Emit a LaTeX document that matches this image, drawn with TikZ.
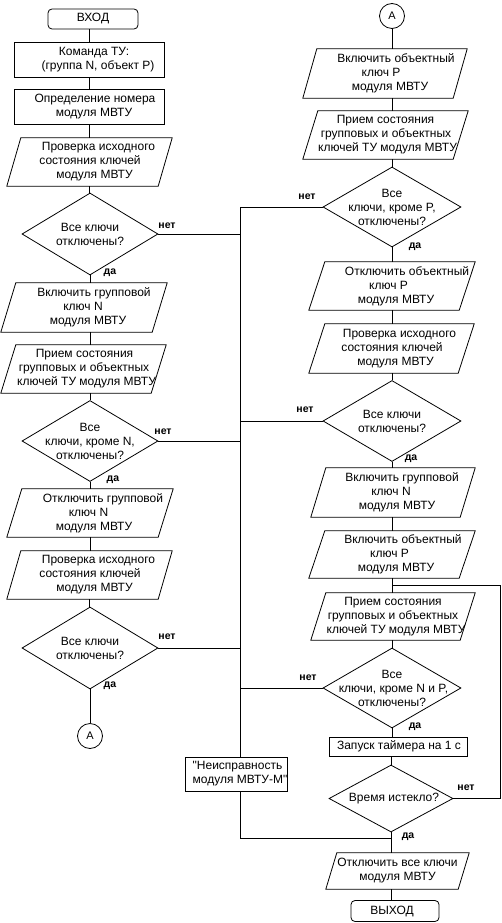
\documentclass[tikz,border=0pt]{standalone}
\usepackage{fontspec}
\setmainfont{Liberation Sans}[Ligatures=TeXOff]
\usetikzlibrary{shapes.geometric}
\newcommand\shl[2]{\hspace*{#1pt}#2\hspace*{-#1pt}}
\begin{document}
\begin{tikzpicture}[x=1pt,y=-1pt,
  txt/.style={font=\fontsize{12}{14}\selectfont, align=center, inner sep=0pt},
  proc/.style={txt, draw, line width=0.8pt, rectangle, minimum height=35pt},
  term/.style={txt, draw, line width=0.8pt, rounded corners=4pt, minimum height=20pt},
  iobox/.style={txt, rectangle, minimum height=48pt},
  decision/.style={txt, draw, line width=0.8pt, diamond, inner sep=-10pt, aspect=1.7},
  conn/.style={draw, line width=0.8pt, circle, minimum size=25pt, inner sep=0pt, font=\fontsize{11}{11}\selectfont},
  lab/.style={font=\fontsize{10.5}{10.5}\selectfont\bfseries, inner sep=0pt},
  flow/.style={draw, line width=0.8pt}]
\fill[white] (0,0) rectangle (502,923);
\path[use as bounding box] (0,0) rectangle (502,923);

% ---- left column
\node[term, minimum width=90pt] (in) at (93,19) {ВХОД};
\node[proc, minimum width=150pt] (cmd) at (89,59.5) {\shl{5}{Команда ТУ:}\\\shl{9}{(группа N, объект P)}};
\node[proc, minimum width=150pt] (det) at (89,106.5) {\shl{6}{Определение номера}\\\shl{5}{модуля МВТУ}};
\node[iobox, minimum width=165pt] (chk1) at (89.5,162) {\shl{9}{Проверка исходного}\\\shl{1}{состояния ключей}\\\shl{5}{модуля МВТУ}};
\node[decision, minimum width=136pt, minimum height=82pt] (d1) at (90,234) {Все ключи\\отключены?};
\node[iobox, minimum width=166pt, minimum height=49pt] (on1) at (84,307.5) {\shl{10}{Включить групповой}\\\shl{-2}{ключ N}\\\shl{4}{модуля МВТУ}};
\node[iobox, minimum width=165pt] (rcv1) at (83.5,369) {\shl{1}{Прием состояния}\\\shl{1}{групповых и объектных}\\\shl{3}{ключей ТУ модуля МВТУ}};
\node[decision, minimum width=136pt, minimum height=81pt] (d2) at (90,441) {Все\\ключи, кроме N,\\отключены?};
\node[iobox, minimum width=166pt] (off1) at (90,513) {\shl{13}{Отключить групповой}\\\shl{-3}{ключ N}\\\shl{4}{модуля МВТУ}};
\node[iobox, minimum width=165pt] (chk2) at (89.5,575) {\shl{9}{Проверка исходного}\\\shl{1}{состояния ключей}\\\shl{5}{модуля МВТУ}};
\node[decision, minimum width=136pt, minimum height=82pt] (d3) at (90,648) {Все ключи\\отключены?};
\node[conn] (A1) at (90,736) {A};

% ---- error box
\node[proc, fill=white, align=left, minimum width=102pt, minimum height=34pt] (err) at (236,774) {\shl{4}{"Неисправность}\\\shl{4}{модуля МВТУ-М"}};

% ---- right column
\node[conn] (A2) at (392,16) {A};
\node[iobox, minimum width=164pt, minimum height=49pt] (ron) at (385,73.5) {\shl{11}{Включить объектный}\\\shl{-8}{ключ P}\\\shl{5}{модуля МВТУ}};
\node[iobox, minimum width=165pt] (rrcv1) at (385.5,135) {Прием состояния\\\shl{1}{групповых и объектных}\\\shl{2}{ключей ТУ модуля МВТУ}};
\node[decision, minimum width=138pt, minimum height=80pt] (rd1) at (392,207) {Все\\ключи, кроме P,\\отключены?};
\node[iobox, minimum width=166pt] (roff) at (392,286) {\shl{15}{Отключить объектный}\\\shl{-7}{ключ P}\\\shl{4}{модуля МВТУ}};
\node[iobox, minimum width=165pt, minimum height=49pt] (rchk) at (391.5,348.5) {\shl{8}{Проверка исходного}\\\shl{1}{состояния ключей}\\\shl{4}{модуля МВТУ}};
\node[decision, minimum width=138pt, minimum height=81pt] (rd2) at (392,421) {Все ключи\\отключены?};
\node[iobox, minimum width=164pt, minimum height=49pt] (ron2) at (393,492.5) {\shl{9}{Включить групповой}\\\shl{-4}{ключ N}\\\shl{4}{модуля МВТУ}};
\node[iobox, minimum width=166pt, minimum height=47pt] (ron3) at (392,554.5) {\shl{11}{Включить объектный}\\\shl{-5}{ключ P}\\\shl{4}{модуля МВТУ}};
\node[iobox, minimum width=164pt, minimum height=47pt] (rrcv2) at (393,616.5) {Прием состояния\\групповых и объектных\\\shl{3}{ключей ТУ модуля МВТУ}};
\node[decision, minimum width=138pt, minimum height=80pt] (rd3) at (392,688) {Все\\\shl{3}{ключи, кроме N и P,}\\отключены?};
\node[proc, minimum width=138pt, minimum height=19pt] (timer) at (398,746.5) {\shl{1}{Запуск таймера на 1 с}};
\node[decision, minimum width=124pt, minimum height=67pt] (rd4) at (391,798.5) {\shl{3}{Время истекло?}};
\node[iobox, minimum width=143pt, minimum height=36pt] (offall) at (397.5,871) {Отключить все ключи\\модуля МВТУ};
\node[term, minimum width=88pt, minimum height=21pt] (out) at (395,911) {\shl{-3}{ВЫХОД}};

% ---- parallelogram outlines
\foreach \n/\s in {chk1/14,on1/15,rcv1/15,off1/15,chk2/14,ron/14,rrcv1/15,roff/16,rchk/16,ron2/15,ron3/16,rrcv2/15,offall/11}
  \draw[flow] ([xshift=\s pt]\n.north west) -- (\n.north east) -- ([xshift=-\s pt]\n.south east) -- (\n.south west) -- cycle;

% ---- left connectors
\draw[flow] (in.south -| cmd.north) -- (cmd.north);
\draw[flow] (cmd.south) -- (det.north);
\draw[flow] (det.south) -- (det.south |- chk1.north);
\draw[flow] (chk1.south) -- (chk1.south |- d1.north);
\draw[flow] (d1.south) -- (d1.south |- on1.north);
\draw[flow] (d1.south |- on1.south) -- (d1.south |- rcv1.north);
\draw[flow] (d1.south |- rcv1.south) -- (d2.north);
\draw[flow] (d2.south) -- (d2.south |- off1.north);
\draw[flow] (off1.south) -- (off1.south |- chk2.north);
\draw[flow] (chk2.south) -- (chk2.south |- d3.north);
\draw[flow] (d3.south) -- (A1.north);

% ---- right connectors
\draw[flow] (A2.south) -- (A2.south |- ron.north);
\draw[flow] (A2.south |- ron.south) -- (A2.south |- rrcv1.north);
\draw[flow] (A2.south |- rrcv1.south) -- (rd1.north);
\draw[flow] (rd1.south) -- (rd1.south |- roff.north);
\draw[flow] (roff.south) -- (roff.south |- rchk.north);
\draw[flow] (roff.south |- rchk.south) -- (rd2.north);
\draw[flow] (rd2.south) -- (rd2.south |- ron2.north);
\draw[flow] (rd2.south |- ron2.south) -- (rd2.south |- ron3.north);
\draw[flow] (ron3.south) -- (ron3.south |- rrcv2.north);
\draw[flow] (ron3.south |- rrcv2.south) -- (rd3.north);
\draw[flow] (rd3.south) -- (rd3.south |- timer.north);
\draw[flow] (rd4.north |- timer.south) -- (rd4.north);
\draw[flow] (rd4.south) -- (rd4.south |- offall.north);
\draw[flow] (rd4.south |- offall.south) -- (rd4.south |- out.north);

% ---- timer loop
\coordinate (lp) at (500,585);
\draw[flow] (rd4.east) -- (rd4.east -| lp) -- (lp) -- (lp -| ron3.south);

% ---- failure spine
\coordinate (st) at (240,207);
\coordinate (sb) at (240,838);
\draw[flow] (rd1.west) -- (st) -- (st |- err.north);
\draw[flow] (st |- err.south) -- (sb) -- (sb -| rd4.south);
\draw[flow] (d1.east) -- (d1.east -| st);
\draw[flow] (d2.east) -- (d2.east -| st);
\draw[flow] (d3.east) -- (d3.east -| st);
\draw[flow] (rd2.west) -- (rd2.west -| st);
\draw[flow] (rd3.west) -- (rd3.west -| st);

% ---- labels
\node[lab] (n1) at (167,226) {нет};
\node[lab] (y1) at (110,273) {да};
\node[lab] (n2) at (163,432) {нет};
\node[lab] (y2) at (113,480) {да};
\node[lab] (n3) at (167,637) {нет};
\node[lab] (y3) at (110,686) {да};
\node[lab] (rn1) at (307,197) {нет};
\node[lab] (ry1) at (415,247) {да};
\node[lab] (rn2) at (305,410) {нет};
\node[lab] (ry2) at (411,459) {да};
\node[lab] (rn3) at (308,678) {нет};
\node[lab] (ry3) at (415,727) {да};
\node[lab] (rn4) at (466,788) {нет};
\node[lab] (ry4) at (408,837) {да};
\end{tikzpicture}
\end{document}
